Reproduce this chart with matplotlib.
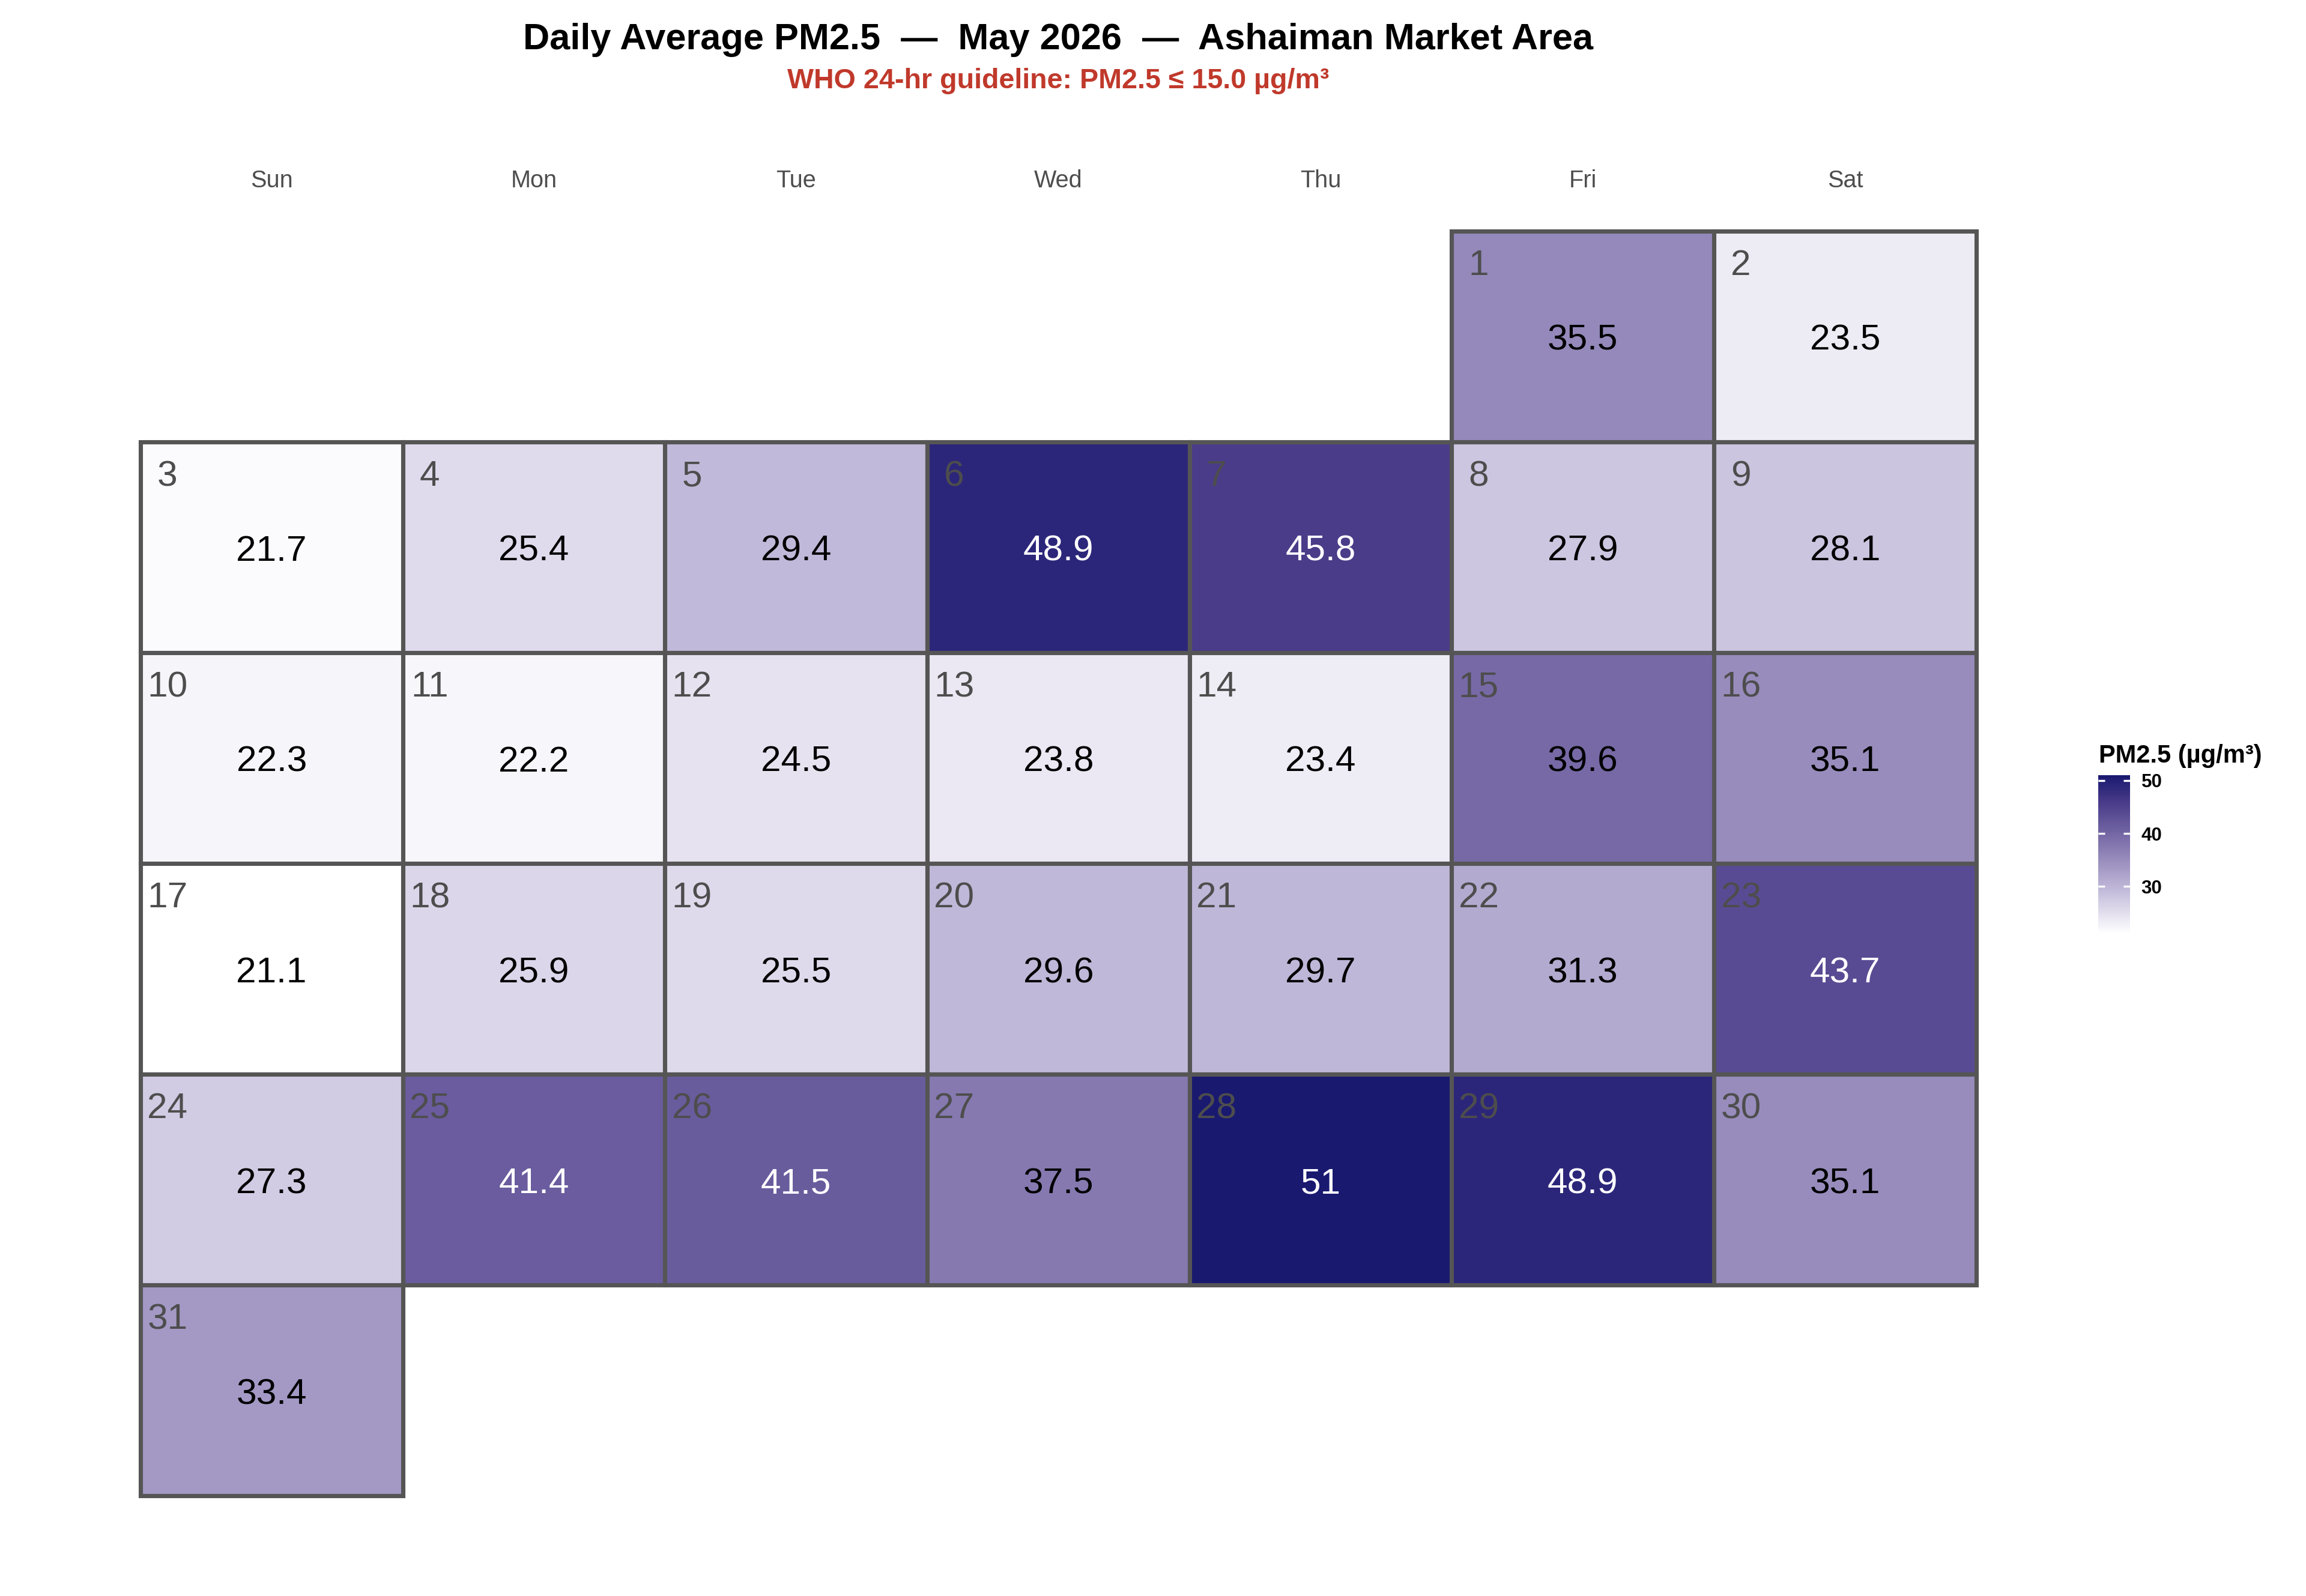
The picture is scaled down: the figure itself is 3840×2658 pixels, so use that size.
import datetime
import numpy as np
import matplotlib
matplotlib.use('Agg')
import matplotlib.pyplot as plt
from matplotlib.colors import LinearSegmentedColormap, Normalize
from matplotlib.patches import Rectangle

plt.rcParams['font.family'] = ['Liberation Sans', 'DejaVu Sans']

# data: daily average PM2.5, May 2026
year, month = 2026, 5
days = list(range(1, 32))
pm25 = [35.5, 23.5, 21.7, 25.4, 29.4, 48.9, 45.8, 27.9, 28.1, 22.3,
        22.2, 24.5, 23.8, 23.4, 39.6, 35.1, 21.1, 25.9, 25.5, 29.6,
        29.7, 31.3, 43.7, 27.3, 41.4, 41.5, 37.5, 51.0, 48.9, 35.1, 33.4]
weekdays = ['Sun', 'Mon', 'Tue', 'Wed', 'Thu', 'Fri', 'Sat']
who_limit = 15.0

# colour scale (white -> midnight blue, via purples)
anchor_vals = [21.1, 29.4, 37.5, 45.8, 51.0]
anchor_cols = ['#ffffff', '#c1b9d9', '#8679b0', '#4a3c89', '#191970']
vmin, vmax = min(pm25), max(pm25)
pos = [(v - vmin) / (vmax - vmin) for v in anchor_vals]
cmap = LinearSegmentedColormap.from_list('pm', list(zip(pos, anchor_cols)))
norm = Normalize(vmin, vmax)

fig = plt.figure(figsize=(12.8, 8.86), dpi=300)
ax_l, ax_w = 0.0609, 0.7961
ax = fig.add_axes([ax_l, 0.0628, ax_w, 0.7924])
ax.set_xlim(0, 7)
ax.set_ylim(6, 0)
ax.axis('off')

# first weekday offset (Sunday = 0)
first = datetime.date(year, month, 1)
offset = (first.weekday() + 1) % 7

for d, v in zip(days, pm25):
    idx = d - 1 + offset
    col = idx % 7
    row = idx // 7
    ax.add_patch(Rectangle((col, row), 1, 1, facecolor=cmap(norm(v)),
                           edgecolor='#555555', linewidth=1.7, clip_on=False))
    ax.text(col + 0.103, row + 0.165, str(d), ha='center', va='center',
            fontsize=14.5, color='#4d4d4d')
    ax.text(col + 0.5, row + 0.52, f'{v:g}', ha='center', va='center',
            fontsize=14.5, color='white' if v > 40 else 'black')

for i, wd in enumerate(weekdays):
    ax.text(i + 0.5, -0.24, wd, ha='center', va='center', fontsize=9.5,
            color='#4d4d4d', clip_on=False)

xc = ax_l + ax_w / 2
fig.text(xc, 0.9691, 'Daily Average PM2.5  \u2014  May 2026  \u2014  Ashaiman Market Area',
         ha='center', va='baseline', fontsize=14.7, fontweight='bold', color='black')
fig.text(xc, 0.9447, f'WHO 24-hr guideline: PM2.5 \u2264 {who_limit:.1f} \u00b5g/m\u00b3',
         ha='center', va='baseline', fontsize=11.2, fontweight='bold', color='#c0392b')

# colour bar legend
cax = fig.add_axes([0.9099, 0.415, 0.0138, 0.0993])
sm = plt.cm.ScalarMappable(norm=norm, cmap=cmap)
cb = fig.colorbar(sm, cax=cax, ticks=[30, 40, 50])
cb.outline.set_visible(False)
cax.tick_params(length=0, pad=4.5, labelsize=7.5)
for lab in cax.get_yticklabels():
    lab.set_fontweight('bold')
cax.hlines([30, 40, 50], 0, 0.2, colors='white', linewidth=0.8)
cax.hlines([30, 40, 50], 0.8, 1, colors='white', linewidth=0.8)
fig.text(0.9102, 0.5222, 'PM2.5 (\u00b5g/m\u00b3)', ha='left', va='baseline',
         fontsize=10, fontweight='bold')

fig.savefig('out.png', dpi=300, facecolor='white')
